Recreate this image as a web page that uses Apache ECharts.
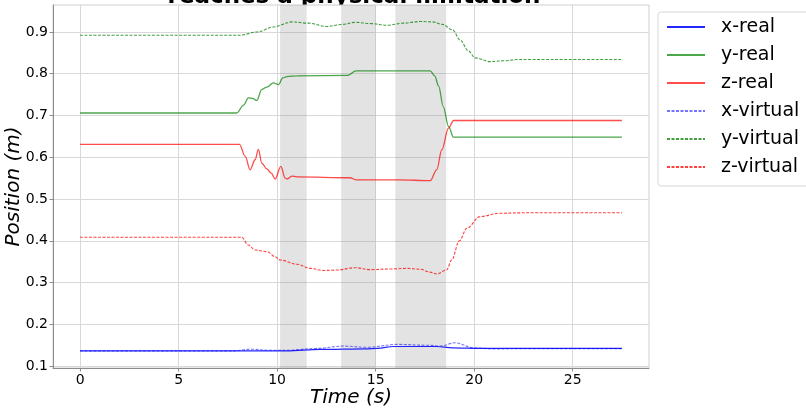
<!DOCTYPE html>
<html>
<head>
<meta charset="utf-8">
<script src="https://cdn.jsdelivr.net/npm/echarts@6/dist/echarts.min.js"></script>
<style>
  html, body { margin: 0; padding: 0; background: #fff; }
  #chart { width: 806px; height: 409px; }
</style>
</head>
<body>
<div id="chart"></div>
<script>
// Tracked positions over time (seconds, metres)
const xRealT = [0, 8, 10.5, 12.2, 14.5, 15.1, 15.9, 18.1, 18.9, 20.3, 27.5];
const xRealV = [0.1365, 0.1365, 0.1365, 0.140, 0.1415, 0.1425, 0.147, 0.147, 0.1438, 0.1425, 0.1425];

const yRealT = [0, 7.95, 8.3, 8.54, 8.75, 8.97, 9.22, 9.48, 9.81, 10.07, 10.29, 10.5, 11, 13.6, 14.0, 17.77, 18.0, 18.2, 18.43, 18.7, 18.95, 27.5];
const yRealV = [0.706, 0.706, 0.725, 0.742, 0.741, 0.736, 0.762, 0.768, 0.778, 0.774, 0.790, 0.793, 0.795, 0.796, 0.807, 0.807, 0.795, 0.77, 0.722, 0.674, 0.648, 0.648];

const zRealT = [0, 8.09, 8.38, 8.63, 8.88, 9.05, 9.22, 9.48, 9.7, 9.9, 10.19, 10.41, 10.52, 10.74, 11.0, 13.7, 14.0, 16.2, 17.77, 18.1, 18.36, 18.7, 18.96, 27.5];
const zRealV = [0.631, 0.631, 0.602, 0.570, 0.594, 0.619, 0.586, 0.572, 0.562, 0.548, 0.578, 0.55, 0.548, 0.555, 0.553, 0.551, 0.546, 0.546, 0.544, 0.570, 0.618, 0.670, 0.688, 0.688];

const xVirtT = [0, 7.8, 8.63, 9.64, 10.5, 12.0, 13.37, 14.55, 16.08, 17.6, 18.27, 19.04, 19.97, 21.0, 22.5, 27.5];
const xVirtV = [0.1365, 0.1365, 0.1405, 0.138, 0.138, 0.1424, 0.148, 0.145, 0.152, 0.150, 0.148, 0.1558, 0.1438, 0.141, 0.142, 0.142];

const yVirtT = [0, 8.1, 9.0, 9.8, 10.75, 11.6, 12.5, 13.3, 13.96, 14.8, 15.57, 16.4, 17.26, 17.9, 18.4, 18.9, 19.3, 19.7, 20.05, 20.8, 21.5, 22.3, 27.5];
const yVirtV = [0.892, 0.892, 0.900, 0.912, 0.924, 0.921, 0.913, 0.918, 0.923, 0.920, 0.916, 0.921, 0.925, 0.924, 0.918, 0.905, 0.88, 0.855, 0.838, 0.829, 0.831, 0.834, 0.834];

const zVirtT = [0, 8.2, 8.54, 8.88, 9.48, 9.9, 10.15, 11.0, 11.68, 12.35, 13.03, 13.96, 14.72, 15.74, 16.58, 17.26, 17.77, 18.1, 18.6, 18.86, 19.25, 19.63, 20.3, 21.3, 22.5, 27.5];
const zVirtV = [0.4085, 0.4085, 0.390, 0.378, 0.374, 0.362, 0.354, 0.344, 0.334, 0.329, 0.330, 0.3356, 0.331, 0.3325, 0.334, 0.332, 0.325, 0.3205, 0.33, 0.354, 0.40, 0.43, 0.458, 0.466, 0.467, 0.467];

// Shaded intervals (seconds)
const bandStart = [10.15, 13.25, 16.0];
const bandEnd = [11.5, 15.0, 18.58];

// Axis ticks
const xTicks = [0, 5, 10, 15, 20, 25];
const yTicks = [0.1, 0.2, 0.3, 0.4, 0.5, 0.6, 0.7, 0.8, 0.9];

const titleText = 'reaches a physical limitation';
const names = ['x-real', 'y-real', 'z-real', 'x-virtual', 'y-virtual', 'z-virtual'];

const pairs = (t, v) => t.map((ti, i) => [ti, v[i]]);

function lineSeries(name, t, v, color, width, dashed) {
  return {
    name: name,
    type: 'line',
    data: pairs(t, v),
    showSymbol: false,
    symbol: 'none',
    smooth: 0.35,
    smoothMonotone: 'x',
    lineStyle: { color: color, width: width, type: dashed ? [3, 1.5] : 'solid' },
    itemStyle: { color: color },
    z: 3
  };
}

const series = [
  lineSeries(names[0], xRealT, xRealV, 'rgba(0,0,255,0.85)', 1.2, false),
  lineSeries(names[1], yRealT, yRealV, 'rgba(0,128,0,0.7)', 1.3, false),
  lineSeries(names[2], zRealT, zRealV, 'rgba(255,0,0,0.7)', 1.3, false),
  lineSeries(names[3], xVirtT, xVirtV, 'rgba(0,0,255,0.55)', 1.1, true),
  lineSeries(names[4], yVirtT, yVirtV, 'rgba(0,128,0,0.75)', 1.1, true),
  lineSeries(names[5], zVirtT, zVirtV, 'rgba(255,0,0,0.75)', 1.1, true)
];

series[0].markArea = {
  silent: true,
  itemStyle: { color: 'rgba(128,128,128,0.22)' },
  data: bandStart.map((s, i) => [{ xAxis: s }, { xAxis: bandEnd[i] }])
};

const chart = echarts.init(document.getElementById('chart'), null, { renderer: 'canvas' });

chart.setOption({
  animation: false,
  backgroundColor: '#ffffff',
  grid: {
    left: 53, right: 157, top: 5, bottom: 41,
    outerBoundsMode: 'none',
    containLabel: false,
    show: true, borderColor: '#cfcfcf', borderWidth: 1, backgroundColor: '#ffffff'
  },
  // Title sits behind the plot panel, so the panel hides what runs below its top edge
  graphic: [{
    type: 'text',
    x: 354, y: -3,
    z: -1,
    style: {
      text: titleText,
      font: 'bold 23px "DejaVu Sans"',
      fill: '#000',
      textAlign: 'center',
      textVerticalAlign: 'middle'
    }
  }],
  legend: {
    orient: 'vertical',
    left: 658, top: 12,
    data: names,
    itemWidth: 38, itemHeight: 14, itemGap: 8,
    padding: [5, 30, 9, 8],
    backgroundColor: '#fff',
    borderColor: '#d6d6d6', borderWidth: 1, borderRadius: 3,
    itemStyle: { opacity: 0 },
    textStyle: { fontFamily: 'DejaVu Sans', fontSize: 19, color: '#000', lineHeight: 20, padding: [0, 0, 0, 11] }
  },
  xAxis: {
    type: 'value',
    min: -1.375, max: 28.875,
    name: 'Time (s)',
    nameLocation: 'middle',
    nameGap: 20,
    nameMoveOverlap: false,
    nameTextStyle: { fontFamily: 'DejaVu Sans', fontStyle: 'italic', fontSize: 20, color: '#000', verticalAlign: 'top' },
    axisLine: { show: true, onZero: false, lineStyle: { color: '#8c8c8c', width: 1 } },
    axisTick: { show: true, length: 3.5, customValues: xTicks, lineStyle: { color: '#8c8c8c' } },
    axisLabel: { customValues: xTicks, margin: 5, fontFamily: 'DejaVu Sans', fontSize: 14, color: '#000' },
    splitLine: { show: true, lineStyle: { color: '#d9d9d9', width: 1 } }
  },
  yAxis: {
    type: 'value',
    min: 0.0955, max: 0.9645,
    name: 'Position (m)',
    nameLocation: 'middle',
    nameGap: 29,
    nameMoveOverlap: false,
    nameTextStyle: { fontFamily: 'DejaVu Sans', fontStyle: 'italic', fontSize: 20, color: '#000' },
    axisLine: { show: true, onZero: false, lineStyle: { color: '#8c8c8c', width: 1 } },
    axisTick: { show: true, length: 3.5, customValues: yTicks, lineStyle: { color: '#8c8c8c' } },
    axisLabel: { customValues: yTicks, margin: 5, fontFamily: 'DejaVu Sans', fontSize: 14, color: '#000',
      formatter: v => v.toFixed(1) },
    splitLine: { show: true, lineStyle: { color: '#d9d9d9', width: 1 } }
  },
  series: series
});
</script>
</body>
</html>
